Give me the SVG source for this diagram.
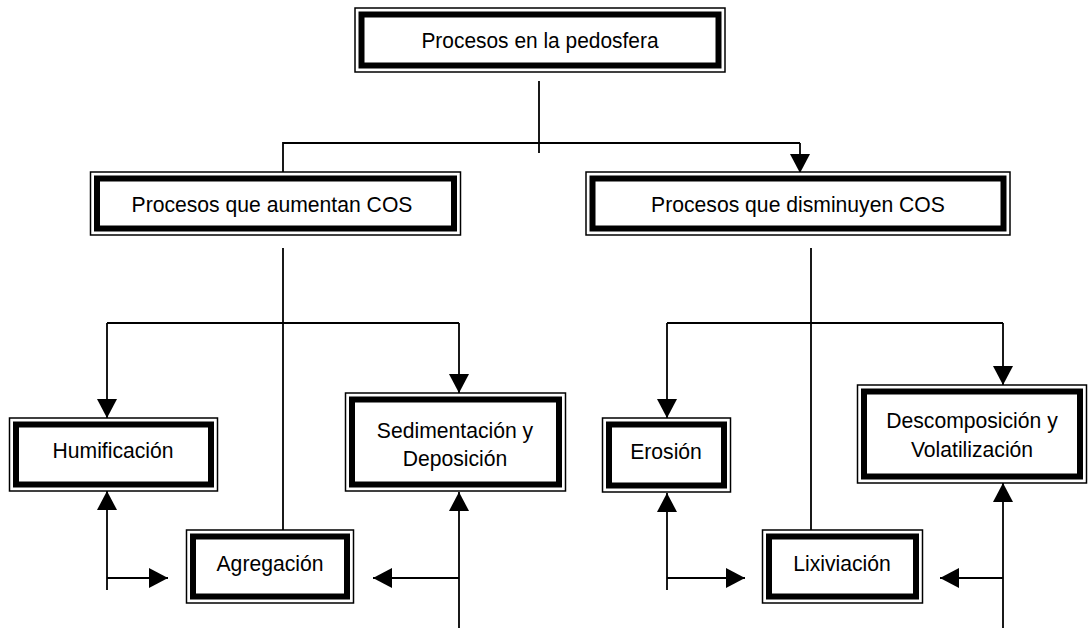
<svg xmlns="http://www.w3.org/2000/svg" width="1090" height="628" viewBox="0 0 1090 628">
<style>
.o{fill:#fff;stroke:#000;stroke-width:1.5}
.i{fill:none;stroke:#000;stroke-width:6}
.t{font-family:"Liberation Sans",Arial,sans-serif;font-size:22.5px;fill:#000;text-anchor:middle}
.c{fill:none;stroke:#000;stroke-width:1.8}
</style>
<defs>
<marker id="a" markerUnits="userSpaceOnUse" markerWidth="20" markerHeight="20" refX="19" refY="10" orient="auto" viewBox="0 0 19 20">
<path d="M0,0 L19,10 L0,20 z" fill="#000"/>
</marker>
</defs>
<rect width="1090" height="628" fill="#fff"/>
<g id="connectors">
<path class="c" d="M539,81 V153"/>
<path class="c" d="M283,172 V143 H800"/>
<path class="c" d="M800,143 V173" marker-end="url(#a)"/>
<path class="c" d="M283,248 V530"/>
<path class="c" d="M811,248 V530"/>
<path class="c" d="M107,323 H459"/>
<path class="c" d="M107,323 V418" marker-end="url(#a)"/>
<path class="c" d="M459,323 V393" marker-end="url(#a)"/>
<path class="c" d="M667,323 H1003"/>
<path class="c" d="M667,323 V418" marker-end="url(#a)"/>
<path class="c" d="M1003,323 V385" marker-end="url(#a)"/>
<path class="c" d="M107,590 V491" marker-end="url(#a)"/>
<path class="c" d="M107,578 H168" marker-end="url(#a)"/>
<path class="c" d="M459,628 V492" marker-end="url(#a)"/>
<path class="c" d="M459,578 H373" marker-end="url(#a)"/>
<path class="c" d="M667,590 V493" marker-end="url(#a)"/>
<path class="c" d="M667,578 H745" marker-end="url(#a)"/>
<path class="c" d="M1003,628 V483" marker-end="url(#a)"/>
<path class="c" d="M1003,578 H940" marker-end="url(#a)"/>
</g>
<g id="n0">
<rect class="o" x="355" y="8" width="370" height="64"/>
<rect class="i" x="361.5" y="14.5" width="357" height="51"/>
<text class="t" transform="translate(540,48) scale(0.93,1)">Procesos en la pedosfera</text>
</g>
<g id="n1">
<rect class="o" x="90.5" y="172" width="370" height="63"/>
<rect class="i" x="97" y="178.5" width="357" height="50"/>
<text class="t" transform="translate(272,212) scale(0.94,1)">Procesos que aumentan COS</text>
</g>
<g id="n2">
<rect class="o" x="586" y="172" width="424" height="63"/>
<rect class="i" x="592.5" y="178.5" width="411" height="50"/>
<text class="t" transform="translate(798,212) scale(0.94,1)">Procesos que disminuyen COS</text>
</g>
<g id="n3">
<rect class="o" x="9.5" y="418" width="208" height="73"/>
<rect class="i" x="16" y="424.5" width="195" height="60"/>
<text class="t" transform="translate(113,458) scale(0.94,1)">Humificación</text>
</g>
<g id="n4">
<rect class="o" x="345.5" y="393" width="220" height="98"/>
<rect class="i" x="352" y="399.5" width="207" height="85"/>
<text class="t" transform="translate(455,438) scale(0.94,1)">Sedimentación y</text>
<text class="t" transform="translate(455,466) scale(0.94,1)">Deposición</text>
</g>
<g id="n5">
<rect class="o" x="186.5" y="530" width="167" height="73"/>
<rect class="i" x="193" y="536.5" width="154" height="60"/>
<text class="t" transform="translate(270,571) scale(0.94,1)">Agregación</text>
</g>
<g id="n6">
<rect class="o" x="602.5" y="418" width="128" height="74"/>
<rect class="i" x="609" y="424.5" width="115" height="61"/>
<text class="t" transform="translate(666,459) scale(0.94,1)">Erosión</text>
</g>
<g id="n7">
<rect class="o" x="762.5" y="530" width="160" height="73"/>
<rect class="i" x="769" y="536.5" width="147" height="60"/>
<text class="t" transform="translate(842,571) scale(0.94,1)">Lixiviación</text>
</g>
<g id="n8">
<rect class="o" x="857.5" y="385" width="229" height="98"/>
<rect class="i" x="864" y="391.5" width="216" height="85"/>
<text class="t" transform="translate(972,428) scale(0.94,1)">Descomposición y</text>
<text class="t" transform="translate(972,457) scale(0.94,1)">Volatilización</text>
</g>
</svg>
